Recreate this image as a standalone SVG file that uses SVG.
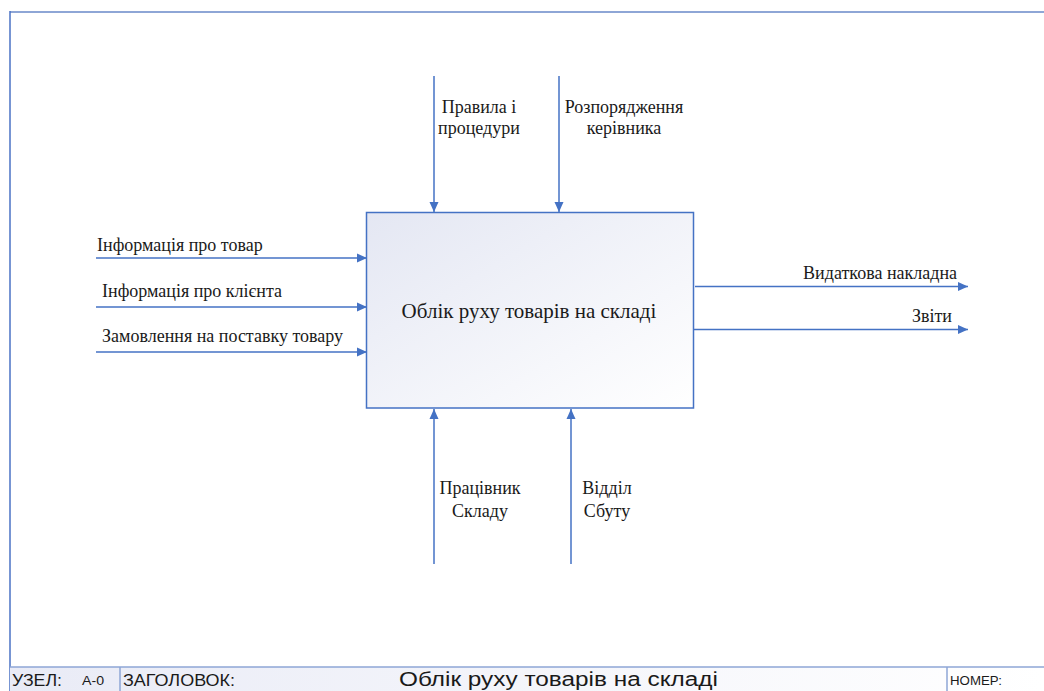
<svg xmlns="http://www.w3.org/2000/svg" width="1044" height="691" viewBox="0 0 1044 691">
<style>
.c{stroke:#4472c4;stroke-width:1.5;fill:none}
.t{font-family:"Liberation Serif","Times New Roman",serif;font-size:18px;fill:#1a1a1a}
.b{font-family:"Liberation Serif","Times New Roman",serif;font-size:21px;fill:#1a1a1a}
.s{font-family:"Liberation Sans",Arial,sans-serif;fill:#1a1a1a}
</style>
<defs>
<marker id="ah" viewBox="0 0 10 10" refX="10" refY="5" markerWidth="10" markerHeight="10" markerUnits="userSpaceOnUse" orient="auto">
<path d="M0,0.5 L10,5 L0,9.5 Z" fill="#4472c4"/>
</marker>
<linearGradient id="bg" x1="0" y1="0" x2="1" y2="1">
<stop offset="0" stop-color="#e4e7f3"/>
<stop offset="1" stop-color="#ffffff"/>
</linearGradient>
<linearGradient id="sg" x1="0" y1="0" x2="1" y2="0">
<stop offset="0" stop-color="#e9ebf6"/>
<stop offset="1" stop-color="#ffffff"/>
</linearGradient>
</defs>
<rect width="1044" height="691" fill="#ffffff"/>
<g id="frame">
<line x1="10" y1="12" x2="1044" y2="12" stroke="#8ea6d6" stroke-width="2"/>
<line x1="10" y1="11" x2="10" y2="691" stroke="#4a72c4" stroke-width="1.5"/>
<rect x="10" y="667" width="1034" height="24" fill="url(#sg)"/>
<line x1="10" y1="667" x2="1044" y2="667" stroke="#8ea6d6" stroke-width="1.5"/>
<line x1="120" y1="667" x2="120" y2="691" stroke="#8ea6d6" stroke-width="1.5"/>
<line x1="947" y1="667" x2="947" y2="691" stroke="#8ea6d6" stroke-width="1.5"/>
<text class="s" x="12" y="686" style="font-size:16px" textLength="50" lengthAdjust="spacingAndGlyphs">УЗЕЛ:</text>
<text class="s" x="82" y="685" style="font-size:12px" textLength="22" lengthAdjust="spacingAndGlyphs">А-0</text>
<text class="s" x="123" y="686" style="font-size:16px" textLength="112" lengthAdjust="spacingAndGlyphs">ЗАГОЛОВОК:</text>
<text class="s" x="399" y="686" style="font-size:20px" textLength="319" lengthAdjust="spacingAndGlyphs">Облік руху товарів на складі</text>
<text class="s" x="950" y="685" style="font-size:12px" textLength="52" lengthAdjust="spacingAndGlyphs">НОМЕР:</text>
</g>
<g id="node-A0">
<rect x="366.5" y="212.5" width="327" height="195.5" fill="url(#bg)" stroke="#4472c4" stroke-width="1.5"/>
<text class="b" x="529" y="318" text-anchor="middle">Облік руху товарів на складі</text>
</g>
<g id="connectors">
<line class="c" x1="96" y1="258" x2="367" y2="258" marker-end="url(#ah)"/>
<line class="c" x1="96" y1="307" x2="367" y2="307" marker-end="url(#ah)"/>
<line class="c" x1="96" y1="352" x2="367" y2="352" marker-end="url(#ah)"/>
<line class="c" x1="695" y1="286.5" x2="968" y2="286.5" marker-end="url(#ah)"/>
<line class="c" x1="693" y1="329.5" x2="968" y2="329.5" marker-end="url(#ah)"/>
<line class="c" x1="434" y1="76" x2="434" y2="212" marker-end="url(#ah)"/>
<line class="c" x1="559" y1="76" x2="559" y2="212" marker-end="url(#ah)"/>
<line class="c" x1="434" y1="564" x2="434" y2="409" marker-end="url(#ah)"/>
<line class="c" x1="571" y1="564" x2="571" y2="409" marker-end="url(#ah)"/>
</g>
<g id="labels">
<text class="t" x="97" y="251">Інформація про товар</text>
<text class="t" x="102" y="297">Інформація про клієнта</text>
<text class="t" x="102" y="342">Замовлення на поставку товару</text>
<text class="t" x="957" y="279" text-anchor="end">Видаткова накладна</text>
<text class="t" x="952" y="322" text-anchor="end">Звіти</text>
<text class="t" x="479" y="113" text-anchor="middle">Правила і</text>
<text class="t" x="479" y="134" text-anchor="middle">процедури</text>
<text class="t" x="624" y="113" text-anchor="middle">Розпорядження</text>
<text class="t" x="624" y="134" text-anchor="middle">керівника</text>
<text class="t" x="480" y="494" text-anchor="middle">Працівник</text>
<text class="t" x="480" y="517" text-anchor="middle">Складу</text>
<text class="t" x="607" y="494" text-anchor="middle">Відділ</text>
<text class="t" x="607" y="517" text-anchor="middle">Сбуту</text>
</g>
</svg>
